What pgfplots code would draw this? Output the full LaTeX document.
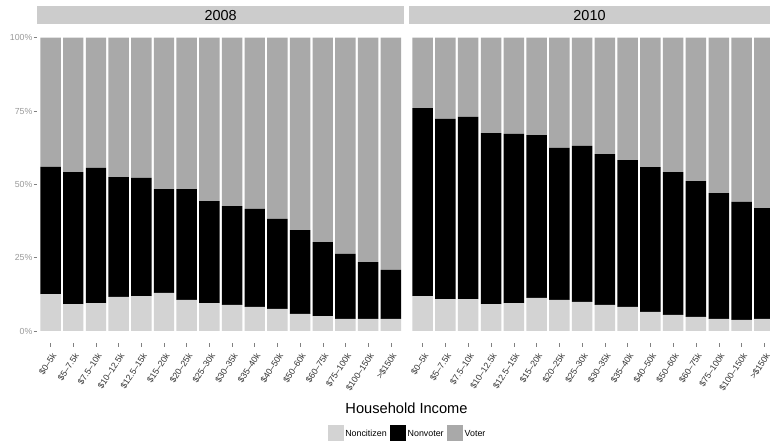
\documentclass[border=0pt]{standalone}
\usepackage{fontspec}
\setmainfont{Liberation Sans}
\usepackage{pgfplots}
\pgfplotsset{compat=1.18}
\definecolor{noncit}{HTML}{D3D3D3}
\definecolor{voter}{HTML}{A9A9A9}
\definecolor{stripc}{HTML}{CCCCCC}
\definecolor{ylab}{HTML}{999999}
\definecolor{xlab}{HTML}{333333}
\pgfplotsset{
  panel/.style={
    scale only axis, height=317bp,
    ymin=-4.1, ymax=104, xmin=0.4,
    ybar stacked, bar width=0.9,
    axis line style={draw=none},
    tick align=outside, major tick length=3.5bp,
    tick style={draw=gray, line width=0.5bp},
    xtick pos=lower, ytick pos=left,
    xtick={1,...,16},
    xticklabels={\$0–5k,\$5–7.5k,\$7.5–10k,\$10–12.5k,\$12.5–15k,\$15–20k,\$20–25k,\$25–30k,\$30–35k,\$35–40k,\$40–50k,\$50–60k,\$60–75k,\$75–100k,\$100–150k,>\$150k},
    xticklabel style={rotate=57, anchor=east, font=\fontsize{8.8}{9}\selectfont, text=xlab, inner sep=0bp, xshift=-4bp, yshift=-7bp},
    ytick={0,25,50,75,100},
    yticklabel style={font=\fontsize{8.8}{9}\selectfont, text=ylab, inner sep=1bp},
    legend image code/.code={\fill[#1] (0bp,-8.5bp) rectangle (16bp,8.5bp);},
  }
}
\begin{document}
\begin{tikzpicture}[x=1bp,y=1bp]
\path[use as bounding box] (0,0) rectangle (770,-441);
\fill[stripc] (37,-6) rectangle (404.4,-24);
\node at (220.7,-15.5) {\fontsize{14.5}{15}\selectfont 2008};
\fill[stripc] (409,-6) rectangle (770,-24);
\node at (589.5,-15.5) {\fontsize{14.5}{15}\selectfont 2010};
\begin{axis}[panel, at={(37bp,-343bp)}, anchor=south west, width=367.4bp, xmax=16.6,
  yticklabels={0\%,25\%,50\%,75\%,100\%},
  legend style={at={(1.008,-0.287)}, anchor=center, draw=none, fill=none,
    legend columns=3, font=\fontsize{8.9}{10}\selectfont,
    nodes={inner sep=1.5bp},
    /tikz/every even column/.append style={column sep=2bp},
    /tikz/every odd column/.append style={column sep=0bp}},
  ]
\addplot[fill=noncit, draw=none] coordinates {(1,12.6) (2,9.2) (3,9.5) (4,11.6) (5,11.9) (6,13.0) (7,10.6) (8,9.5) (9,8.9) (10,8.2) (11,7.5) (12,5.8) (13,5.1) (14,4.1) (15,4.1) (16,4.1)};
\addlegendentry{Noncitizen}
\addplot[fill=black, draw=none] coordinates {(1,43.4) (2,45.0) (3,46.1) (4,40.9) (5,40.3) (6,35.4) (7,37.8) (8,34.8) (9,33.7) (10,33.4) (11,30.7) (12,28.6) (13,25.2) (14,22.2) (15,19.4) (16,16.7)};
\addlegendentry{Nonvoter}
\addplot[fill=voter, draw=none] coordinates {(1,44.0) (2,45.8) (3,44.4) (4,47.5) (5,47.8) (6,51.6) (7,51.6) (8,55.7) (9,57.4) (10,58.4) (11,61.8) (12,65.6) (13,69.7) (14,73.7) (15,76.5) (16,79.2)};
\addlegendentry{Voter}
\end{axis}
\begin{axis}[panel, at={(409bp,-343bp)}, anchor=south west, width=361bp, xmax=16.25,
  yticklabels={}, ytick style={draw=none}]
\addplot[fill=noncit, draw=none] coordinates {(1,11.9) (2,10.9) (3,10.9) (4,9.2) (5,9.5) (6,11.3) (7,10.6) (8,9.9) (9,8.9) (10,8.2) (11,6.5) (12,5.5) (13,4.8) (14,4.1) (15,3.8) (16,4.1)};
\addplot[fill=black, draw=none] coordinates {(1,64.1) (2,61.4) (3,62.1) (4,58.3) (5,57.7) (6,55.5) (7,51.8) (8,53.2) (9,51.4) (10,50.1) (11,49.4) (12,48.7) (13,46.3) (14,42.9) (15,40.2) (16,37.8)};
\addplot[fill=voter, draw=none] coordinates {(1,24.0) (2,27.7) (3,27.0) (4,32.5) (5,32.8) (6,33.2) (7,37.6) (8,36.9) (9,39.7) (10,41.7) (11,44.1) (12,45.8) (13,48.9) (14,53.0) (15,56.0) (16,58.1)};
\end{axis}
\node at (406.5,-408) {\fontsize{14.7}{15}\selectfont Household Income};
\end{tikzpicture}
\end{document}
